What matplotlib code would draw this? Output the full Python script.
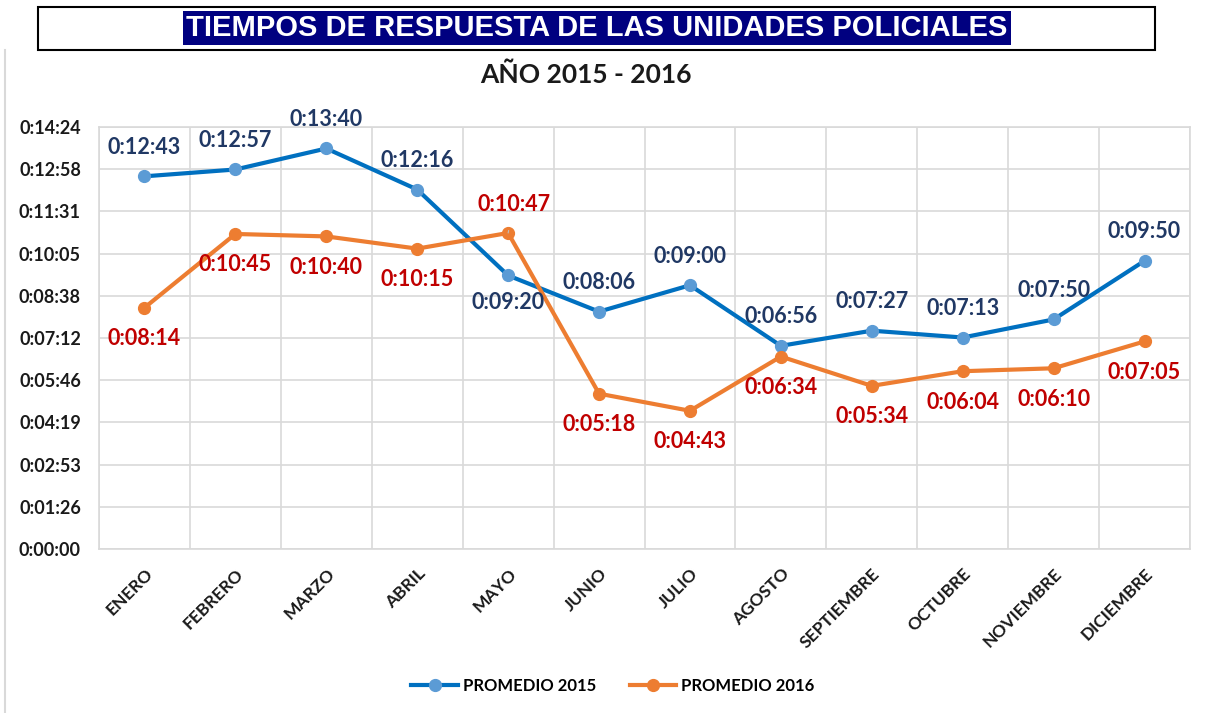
import matplotlib
matplotlib.use('Agg')
import matplotlib.pyplot as plt
import numpy as np
from matplotlib.patches import Rectangle
from matplotlib.lines import Line2D

meses = ['ENERO', 'FEBRERO', 'MARZO', 'ABRIL', 'MAYO', 'JUNIO', 'JULIO',
         'AGOSTO', 'SEPTIEMBRE', 'OCTUBRE', 'NOVIEMBRE', 'DICIEMBRE']
promedio_2015 = ['0:12:43', '0:12:57', '0:13:40', '0:12:16', '0:09:20', '0:08:06',
                 '0:09:00', '0:06:56', '0:07:27', '0:07:13', '0:07:50', '0:09:50']
promedio_2016 = ['0:08:14', '0:10:45', '0:10:40', '0:10:15', '0:10:47', '0:05:18',
                 '0:04:43', '0:06:34', '0:05:34', '0:06:04', '0:06:10', '0:07:05']
y_tick_labels = ['0:00:00', '0:01:26', '0:02:53', '0:04:19', '0:05:46', '0:07:12',
                 '0:08:38', '0:10:05', '0:11:31', '0:12:58', '0:14:24']


def to_sec(s):
    h, m, sec = map(int, s.split(':'))
    return h * 3600 + m * 60 + sec


v15 = [to_sec(s) for s in promedio_2015]
v16 = [to_sec(s) for s in promedio_2016]
ymax = to_sec(y_tick_labels[-1])
yticks = np.linspace(0, ymax, len(y_tick_labels))

plt.rcParams['font.family'] = ['Lato', 'DejaVu Sans']

W, H = 1211, 713
fig = plt.figure(figsize=(W / 100, H / 100), dpi=100)
fig.patch.set_facecolor('white')

ax = fig.add_axes([99 / W, 1 - 549 / H, (1190 - 99) / W, (549 - 127) / H])
x = np.arange(len(meses))

grid_c = '#D9D9D9'
ax.set_xlim(-0.5, len(meses) - 0.5)
ax.set_ylim(0, ymax)
ax.set_yticks(yticks)
ax.set_yticklabels(y_tick_labels, fontsize=13, fontweight='bold', color='#1a1a1a')
ax.set_xticks(x)
ax.set_xticklabels(meses, rotation=45, ha='right', rotation_mode='anchor',
                   fontsize=12.5, fontweight='bold', color='#1a1a1a')
ax.tick_params(axis='both', length=0)
ax.tick_params(axis='y', pad=13)
ax.tick_params(axis='x', pad=12)
ax.set_xticks(np.arange(len(meses) + 1) - 0.5, minor=True)
ax.grid(True, axis='y', which='major', color=grid_c, lw=1.2)
ax.grid(True, axis='x', which='minor', color=grid_c, lw=1.2)
ax.tick_params(which='minor', length=0)
for sp in ax.spines.values():
    sp.set_color(grid_c)
    sp.set_linewidth(1.2)
ax.set_axisbelow(True)

l15, = ax.plot(x, v15, color='#0070C0', lw=3, marker='o', markersize=8.5,
               markerfacecolor='#5B9BD5', markeredgecolor='#5B9BD5',
               label='PROMEDIO 2015', zorder=3)
l16, = ax.plot(x, v16, color='#ED7D31', lw=3, marker='o', markersize=8.5,
               markerfacecolor='#ED7D31', markeredgecolor='#ED7D31',
               label='PROMEDIO 2016', zorder=3)

pos15 = ['a', 'a', 'a', 'a', 'b', 'a', 'a', 'a', 'a', 'a', 'a', 'a']
pos16 = ['b', 'b', 'b', 'b', 'a', 'b', 'b', 'b', 'b', 'b', 'b', 'b']

for xi, val, s, p in zip(x, v15, promedio_2015, pos15):
    dy = 29 if p == 'a' else -27
    ax.annotate(s, (xi, val), xytext=(0, dy), textcoords='offset pixels',
                ha='center', va='center', fontsize=15.5, fontweight='bold',
                color='#203864', zorder=4)
for xi, val, s, p in zip(x, v16, promedio_2016, pos16):
    if p == 'a':
        ax.annotate(s, (xi, val), xytext=(6, 28), textcoords='offset pixels',
                    ha='center', va='center', fontsize=15.5, fontweight='bold',
                    color='#C00000', zorder=4,
                    arrowprops=dict(arrowstyle='-', color='#BFBFBF', lw=0.8,
                                    shrinkA=9, shrinkB=5))
    else:
        ax.annotate(s, (xi, val), xytext=(0, -31), textcoords='offset pixels',
                    ha='center', va='center', fontsize=15.5, fontweight='bold',
                    color='#C00000', zorder=4)

leg = fig.legend(handles=[l15, l16], loc='center', bbox_to_anchor=(613 / W, 1 - 686 / H),
                 ncol=2, frameon=False, handlelength=2.8, columnspacing=2.0,
                 handletextpad=0.3, prop={'weight': 'bold', 'size': 12})

# Excel chart area left border
fig.add_artist(Line2D([5 / W, 5 / W], [0, 1 - 50 / H], color='#D9D9D9', lw=1.5))

# Title box
fig.add_artist(Rectangle((38 / W, 1 - 50 / H), (1155 - 38) / W, 43 / H,
                         fill=False, edgecolor='black', lw=1.5))
fig.text(597 / W, 1 - 28 / H, 'TIEMPOS DE RESPUESTA DE LAS UNIDADES POLICIALES',
         ha='center', va='center', fontsize=21, fontweight='bold', color='white',
         family=['Liberation Sans', 'DejaVu Sans'],
         bbox=dict(boxstyle='square,pad=0.1', facecolor='#000080', edgecolor='none'))

fig.text(586 / W, 1 - 75 / H, 'AÑO 2015 - 2016', ha='center', va='center',
         fontsize=19, fontweight='bold', color='#1a1a1a')

fig.savefig('out.png', dpi=100, facecolor='white')
